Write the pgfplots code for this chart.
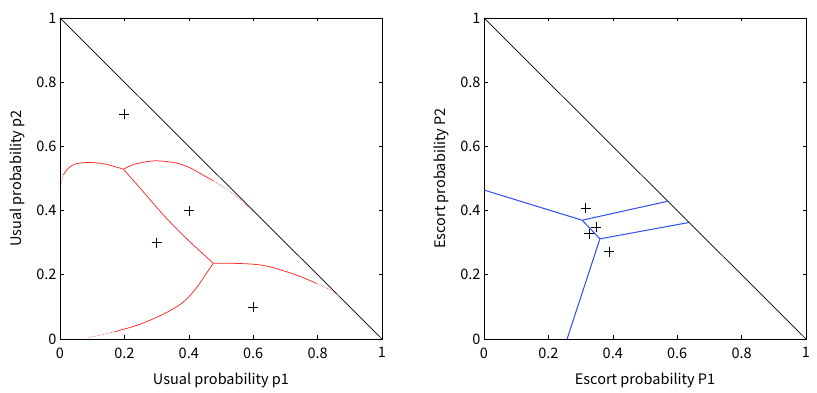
\documentclass[border=0pt]{standalone}
\usepackage{fontspec}
\setmainfont{Noto Sans CJK JP}
\usepackage{pgfplots}
\pgfplotsset{compat=1.18}
\definecolor{curvered}{RGB}{255,40,40}
\definecolor{lineblue}{RGB}{45,75,245}
\pgfplotsset{
  simplex/.style={
    width=322pt, height=321pt, scale only axis,
    xmin=0, xmax=1, ymin=0, ymax=1,
    xtick={0,0.2,0.4,0.6,0.8,1}, ytick={0,0.2,0.4,0.6,0.8,1},
    xticklabels={0,0.2,0.4,0.6,0.8,1}, yticklabels={0,0.2,0.4,0.6,0.8,1},
    tick align=inside, xtick pos=both, ytick pos=both,
    major tick length=3.5pt,
    axis line style={line width=0.8pt},
    tick style={black, line width=0.6pt},
    tick label style={font=\fontsize{14.5}{16}\selectfont},
    label style={font=\fontsize{14.5}{16}\selectfont},
    /pgf/number format/assume math mode=true,
    xticklabel style={yshift=-5pt},
    xlabel style={yshift=-8pt},
    ylabel style={yshift=5pt},
    clip=false,
  },
  cross/.style={only marks, mark=+, mark size=5pt, mark options={line width=0.6pt}, black},
  redc/.style={curvered, line width=0.75pt, smooth},
  redd/.style={curvered!80, line width=0.65pt, densely dotted, smooth},
}
\begin{document}
\begin{tikzpicture}
\useasboundingbox (0,0) rectangle (817pt,393pt);
% left: usual probabilities
\begin{axis}[simplex, at={(60pt,54pt)}, anchor=south west,
  xlabel={Usual probability p1}, ylabel={Usual probability p2}]
\addplot[black, line width=0.7pt] coordinates {(0,1) (1,0)};
\addplot[redd] coordinates {(0.003,0.480) (0.010,0.511)};
\addplot[redc] coordinates {
  (0.010,0.511) (0.026,0.532) (0.047,0.545) (0.088,0.550)
  (0.140,0.545) (0.197,0.529)};
\addplot[redc] coordinates {
  (0.197,0.529) (0.233,0.545) (0.295,0.555) (0.357,0.549) (0.400,0.535)
  (0.435,0.516) (0.476,0.493)};
\addplot[redd] coordinates {
  (0.476,0.493) (0.528,0.459) (0.569,0.426) (0.600,0.397)};
\addplot[redc] coordinates {
  (0.197,0.529) (0.254,0.464) (0.326,0.381) (0.398,0.308) (0.476,0.236)};
\addplot[redc] coordinates {
  (0.476,0.236) (0.528,0.236) (0.600,0.233) (0.652,0.225) (0.735,0.199)
  (0.797,0.173)};
\addplot[redd] coordinates {
  (0.797,0.173) (0.839,0.153) (0.870,0.132)};
\addplot[redc] coordinates {
  (0.476,0.236) (0.455,0.205) (0.419,0.153) (0.378,0.111) (0.316,0.075)
  (0.243,0.044) (0.171,0.023)};
\addplot[redd] coordinates {
  (0.171,0.023) (0.130,0.013) (0.088,0.005)};
\addplot[cross] coordinates {(0.2,0.7) (0.3,0.3) (0.4,0.4) (0.6,0.1)};
\end{axis}
% right: escort probabilities
\begin{axis}[simplex, at={(484pt,54pt)}, anchor=south west,
  xlabel={Escort probability P1}, ylabel={Escort probability P2}]
\addplot[black, line width=0.7pt] coordinates {(0,1) (1,0)};
\addplot[lineblue, line width=1pt] coordinates {(0,0.464) (0.305,0.370) (0.570,0.429)};
\addplot[lineblue, line width=1pt] coordinates {(0.305,0.370) (0.360,0.312)};
\addplot[lineblue, line width=1pt] coordinates {(0.637,0.363) (0.360,0.312) (0.258,0)};
\addplot[cross] coordinates {(0.316,0.407) (0.348,0.348) (0.327,0.328) (0.389,0.272)};
\end{axis}
\end{tikzpicture}
\end{document}
